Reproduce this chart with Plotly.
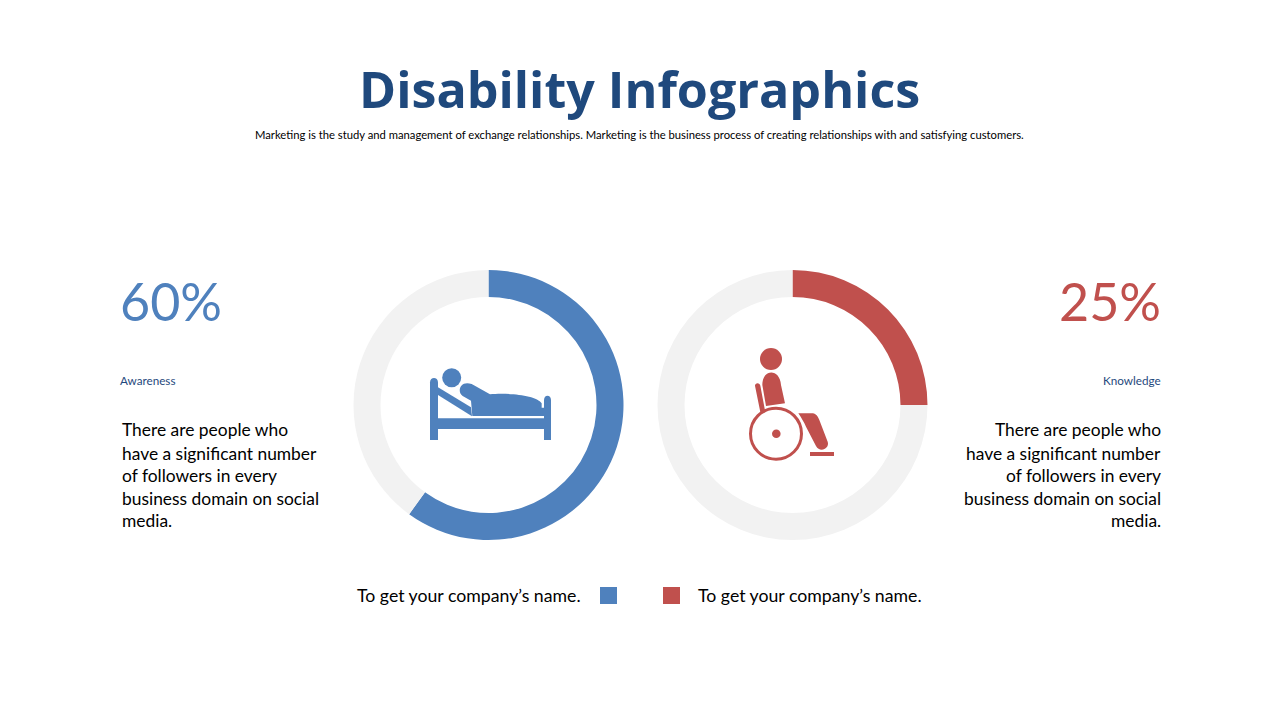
import plotly.graph_objects as go

# the page keeps an 8px body margin, so the figure sits at (8, 8)
OFFSET = 8
W = 1280 - OFFSET
H = 720 - OFFSET

title = "Disability Infographics"
subtitle = "Marketing is the study and management of exchange relationships. Marketing is the business process of creating relationships with and satisfying customers."
labels = ["Awareness", "Knowledge"]
percents = [60, 25]
colors = ["#4F81BD", "#C0504D"]
grey = "#F2F2F2"
navy = "#1F497D"
body_lines = [
    "There are people who",
    "have a significant number",
    "of followers in every",
    "business domain on social",
    "media.",
]
legend_text = "To get your company\u2019s name."
body_font = "Lato"


def px(x):
    return (x - OFFSET) / W


def py(y):
    return 1 - (y - OFFSET) / H


def text(x, y, s, size, color="#000000", anchor="left", family=body_font, weight=None):
    fig.add_annotation(
        x=px(x), y=py(y), xref="paper", yref="paper", text=s, showarrow=False,
        xanchor=anchor, yanchor="middle", borderpad=0, borderwidth=0,
        font=dict(size=size, color=color, family=family, weight=weight),
    )


def icon_path(cmds, x0, y0):
    # commands are in 3x zoomed pixels of the icon, x0/y0 is the crop corner
    out = []
    for c in cmds:
        if isinstance(c, str):
            out.append(c)
        else:
            out.append(f"{px(x0 + c[0] / 3):.5f},{py(y0 + c[1] / 3):.5f}")
    return " ".join(out)


def add_path(cmds, x0, y0, color):
    fig.add_shape(type="path", xref="paper", yref="paper", path=icon_path(cmds, x0, y0),
                  fillcolor=color, line=dict(width=0))


def add_rect(x1, y1, x2, y2, color):
    fig.add_shape(type="rect", xref="paper", yref="paper", x0=px(x1), x1=px(x2), y0=py(y2), y1=py(y1),
                  fillcolor=color, line=dict(width=0))


def add_circle(cx, cy, r, fill, line_color=None, line_width=0):
    fig.add_shape(type="circle", xref="paper", yref="paper", x0=px(cx - r), x1=px(cx + r),
                  y0=py(cy + r), y1=py(cy - r), fillcolor=fill,
                  line=dict(width=line_width, color=line_color))


fig = go.Figure()

# donuts
centers = [488.5, 792.5]
for i in range(2):
    fig.add_trace(go.Pie(
        values=[percents[i], 100 - percents[i]],
        labels=[labels[i], "Rest"],
        sort=False,
        direction="clockwise",
        rotation=0,
        hole=0.8,
        textinfo="none",
        hoverinfo="skip",
        showlegend=False,
        marker=dict(colors=[colors[i], grey], line=dict(width=0)),
        domain=dict(x=[px(centers[i] - 135), px(centers[i] + 135)], y=[py(540), py(270)]),
    ))

# header
text(639.5, 88.5, title, 50.2, navy, "center", "Open Sans", 700)
text(639.5, 134.5, subtitle, 11.25, "#000000", "center")

# left block
text(120, 301, f"{percents[0]}%", 52, colors[0], "left")
text(120, 380, labels[0], 11.7, navy, "left")
# right block
text(1161, 301, f"{percents[1]}%", 52, colors[1], "right")
text(1160.5, 380, labels[1], 11.7, navy, "right")

line_y = [430, 453, 475, 498, 520]
for s, y in zip(body_lines, line_y):
    text(122, y, s, 17.4, "#000000", "left")
    text(1161, y, s, 17.4, "#000000", "right")

# legend
text(581, 595, legend_text, 17.7, "#000000", "right")
text(698, 595, legend_text, 17.7, "#000000", "left")
add_rect(600, 587, 617, 604, colors[0])
add_rect(663, 587, 680, 604, colors[1])

# bed icon
bx, by = 410, 350
blue = colors[0]
add_circle(451.7, 377.7, 9.5, blue)
add_path(["M", (60, 97), "C", (60, 80), (84, 80), (84, 97), "L", (84, 270), "L", (60, 270), "Z"], bx, by, blue)
add_path(["M", (402, 150), "C", (402, 133), (423, 133), (423, 150), "L", (423, 270), "L", (402, 270), "Z"], bx, by, blue)
add_rect(430, 418.3, 551, 429, blue)
add_path(["M", (84, 112), "L", (183, 172), "L", (186, 199), "L", (84, 135), "Z"], bx, by, blue)
add_path(["M", (185, 102), "L", (240, 133), "C", (290, 128), (380, 135), (395, 160), "L", (395, 173), "L", (402, 173),
          "L", (402, 198), "L", (187, 198), "L", (183, 152), "L", (158, 138), "C", (140, 125), (150, 90), (185, 102), "Z"],
         bx, by, blue)

# wheelchair icon
wx, wy = 730, 335
red = colors[1]
add_circle(771, 359, 11, red)
add_path(["M", (97, 150), "C", (97, 100), (150, 100), (153, 150), "L", (165, 205), "L", (108, 213), "Z"], wx, wy, red)
add_path(["M", (75, 152), "C", (75, 142), (90, 142), (91, 152), "L", (106, 232), "L", (92, 236), "Z"], wx, wy, red)
add_circle(776, 433.7, 25.5, "rgba(0,0,0,0)", red, 3)
add_circle(776.3, 433.7, 4.3, red)
add_path(["M", (205, 235), "L", (245, 235), "C", (255, 235), (262, 240), (268, 255), "L", (293, 320),
          "C", (300, 340), (270, 355), (258, 333), "L", (228, 275), "C", (222, 262), (215, 250), (205, 235), "Z"], wx, wy, red)
add_rect(810, 452, 834, 456, red)

fig.update_layout(
    width=W,
    height=H,
    margin=dict(l=0, r=0, t=0, b=0),
    paper_bgcolor="#FFFFFF",
    plot_bgcolor="#FFFFFF",
    showlegend=False,
)

fig.write_html("out.html")
